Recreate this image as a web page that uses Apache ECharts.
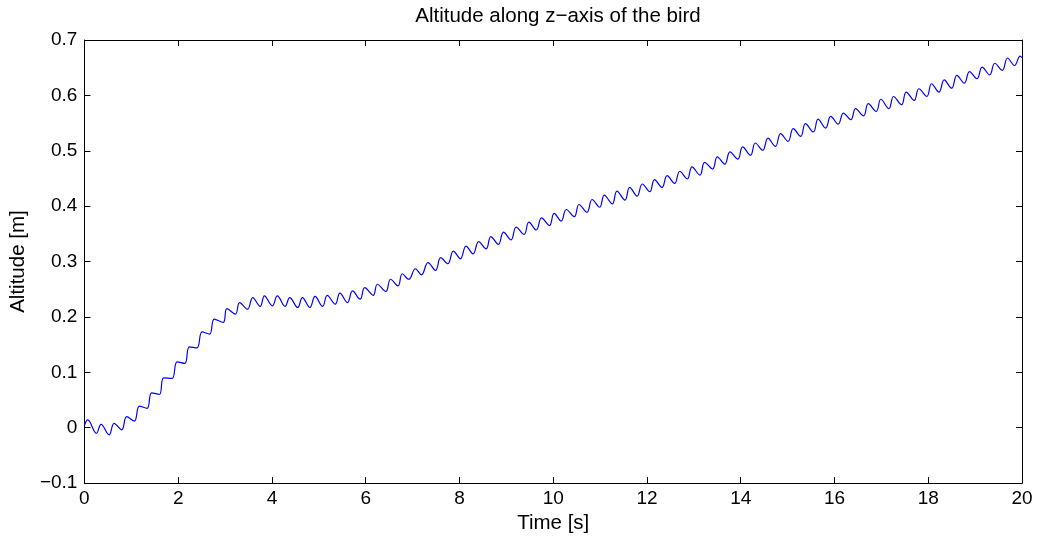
<!DOCTYPE html>
<html>
<head>
<meta charset="utf-8">
<script src="https://cdn.jsdelivr.net/npm/echarts@6/dist/echarts.min.js"></script>
<style>
html,body{margin:0;padding:0;background:#fff;}
#chart{width:1037px;height:539px;}
</style>
</head>
<body>
<div id="chart"></div>
<script>
// Time stamps [s] of the read-off peaks / troughs of the altitude trace
const timeS = [
  0, 0.07, 0.256, 0.355, 0.526, 0.633, 0.795, 0.902, 1.066, 1.173, 1.336, 1.435, 1.599, 1.69, 1.87, 1.977,
  2.14, 2.239, 2.40, 2.51, 2.67, 2.77, 2.96, 3.04, 3.22, 3.31, 3.48, 3.59, 3.75, 3.84, 4.01, 4.115,
  4.28, 4.38, 4.55, 4.65, 4.81, 4.92, 5.08, 5.18, 5.35, 5.45, 5.61, 5.72, 5.88, 5.98, 6.16, 6.25,
  6.43, 6.53, 6.69, 6.78, 6.92, 7.06, 7.19, 7.33, 7.49, 7.60, 7.75, 7.87, 8.02, 8.14, 8.29, 8.41,
  8.57, 8.67, 8.83, 8.94, 9.10, 9.21, 9.38, 9.48, 9.64, 9.75, 9.92, 10.02, 10.17, 10.28, 10.45, 10.55,
  10.72, 10.83, 10.99, 11.09, 11.26, 11.36, 11.53, 11.63, 11.79, 11.90, 12.06, 12.16, 12.32, 12.43, 12.59, 12.70,
  12.86, 12.96, 13.13, 13.23, 13.40, 13.50, 13.66, 13.77, 13.94, 14.04, 14.21, 14.31, 14.47, 14.58, 14.74, 14.85,
  15.01, 15.12, 15.28, 15.38, 15.55, 15.65, 15.81, 15.92, 16.08, 16.19, 16.35, 16.45, 16.62, 16.72, 16.89, 16.99,
  17.16, 17.26, 17.43, 17.53, 17.70, 17.80, 17.97, 18.07, 18.23, 18.34, 18.50, 18.61, 18.77, 18.88, 19.04, 19.15,
  19.31, 19.42, 19.58, 19.69, 19.84, 19.96, 20.0
];
// Altitude [m] at those time stamps
const altitudeM = [
  0.004, 0.014, -0.010, 0.006, -0.013, 0.008, -0.004, 0.020, 0.012, 0.039, 0.035, 0.063, 0.060, 0.090, 0.089, 0.119,
  0.116, 0.146, 0.144, 0.173, 0.169, 0.196, 0.190, 0.215, 0.205, 0.226, 0.214, 0.235, 0.219, 0.238, 0.220, 0.238,
  0.219, 0.235, 0.217, 0.235, 0.217, 0.237, 0.219, 0.239, 0.223, 0.243, 0.226, 0.247, 0.232, 0.253, 0.239, 0.259,
  0.246, 0.268, 0.256, 0.278, 0.268, 0.287, 0.276, 0.298, 0.284, 0.307, 0.296, 0.319, 0.305, 0.328, 0.314, 0.336,
  0.323, 0.345, 0.331, 0.353, 0.339, 0.362, 0.349, 0.371, 0.357, 0.379, 0.365, 0.387, 0.373, 0.394, 0.381, 0.403,
  0.389, 0.412, 0.398, 0.420, 0.404, 0.427, 0.411, 0.434, 0.418, 0.440, 0.426, 0.448, 0.434, 0.455, 0.441, 0.463,
  0.449, 0.471, 0.456, 0.479, 0.467, 0.489, 0.476, 0.498, 0.485, 0.507, 0.492, 0.514, 0.501, 0.523, 0.508, 0.531,
  0.517, 0.540, 0.526, 0.549, 0.534, 0.557, 0.541, 0.562, 0.548, 0.568, 0.556, 0.576, 0.563, 0.585, 0.571, 0.593,
  0.576, 0.598, 0.583, 0.606, 0.591, 0.612, 0.598, 0.621, 0.606, 0.628, 0.613, 0.636, 0.622, 0.643, 0.630, 0.651,
  0.637, 0.658, 0.645, 0.6675, 0.654, 0.671, 0.668
];
const xTickValues = [0, 2, 4, 6, 8, 10, 12, 14, 16, 18, 20];
const yTickValues = [-0.1, 0, 0.1, 0.2, 0.3, 0.4, 0.5, 0.6, 0.7];

const titleText = 'Altitude along z\u2212axis of the bird';
const xName = 'Time [s]';
const yName = 'Altitude [m]';

const FONT = '"Liberation Sans", Arial, Helvetica, sans-serif';
const FS = 19;
const FS_NAME = 20.5;

const seriesData = timeS.map((t, i) => [t, altitudeM[i]]);

function yFmt(v) {
  const r = Math.round(v * 10) / 10;
  return String(r).replace('-', '\u2212');
}

const tickStyle = { show: true, inside: true, length: 6, lineStyle: { color: '#000', width: 1 } };
const lineStyleAx = { show: true, onZero: false, lineStyle: { color: '#000', width: 1 } };

const chart = echarts.init(document.getElementById('chart'), null, { renderer: 'canvas' });
chart.setOption({
  animation: false,
  backgroundColor: '#fff',
  title: {
    text: titleText,
    left: 553, top: 1, textAlign: 'center',
    textStyle: { fontFamily: FONT, fontSize: FS_NAME, fontWeight: 'normal', color: '#000' }
  },
  grid: { left: 84, right: 15, top: 40, bottom: 50, containLabel: false },
  xAxis: [
    {
      type: 'value', min: xTickValues[0], max: xTickValues[xTickValues.length - 1], interval: 2,
      position: 'bottom',
      name: xName, nameLocation: 'middle', nameGap: 28,
      nameTextStyle: { fontFamily: FONT, fontSize: FS_NAME, color: '#000' },
      axisLine: lineStyleAx, axisTick: tickStyle,
      axisLabel: { fontFamily: FONT, fontSize: FS, color: '#000', margin: 6 },
      splitLine: { show: false }
    },
    {
      type: 'value', min: xTickValues[0], max: xTickValues[xTickValues.length - 1], interval: 2,
      position: 'top',
      axisLine: lineStyleAx, axisTick: tickStyle,
      axisLabel: { show: false }, splitLine: { show: false }
    }
  ],
  yAxis: [
    {
      type: 'value', min: yTickValues[0], max: yTickValues[yTickValues.length - 1], interval: 0.1,
      position: 'left',
      name: yName, nameLocation: 'middle', nameGap: 52, nameRotate: 90,
      nameTextStyle: { fontFamily: FONT, fontSize: FS_NAME, color: '#000' },
      axisLine: lineStyleAx, axisTick: tickStyle,
      axisLabel: { fontFamily: FONT, fontSize: FS, color: '#000', margin: 7, formatter: yFmt },
      splitLine: { show: false }
    },
    {
      type: 'value', min: yTickValues[0], max: yTickValues[yTickValues.length - 1], interval: 0.1,
      position: 'right',
      axisLine: lineStyleAx, axisTick: tickStyle,
      axisLabel: { show: false }, splitLine: { show: false }
    }
  ],
  series: [{
    type: 'line',
    xAxisIndex: 0, yAxisIndex: 0,
    data: seriesData,
    showSymbol: false,
    smooth: 0.4,
    lineStyle: { color: '#0000ff', width: 1.2 },
    itemStyle: { color: '#0000ff' }
  }]
});
</script>
</body>
</html>
